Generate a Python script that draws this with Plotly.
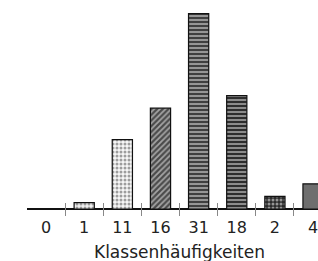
import plotly.graph_objects as go

categories = ["0", "1", "11", "16", "31", "18", "2", "4"]
values = [0, 1, 11, 16, 31, 18, 2, 4]
x_title = "Klassenhäufigkeiten"

pattern_shapes = ["", ".", ".", "/", "-", "-", ".", ""]
pattern_fg = ["#000", "#333333", "#222222", "#cfcfcf", "#dcdcdc", "#bdbdbd", "#ffffff", "#6e6e6e"]
bar_colors = ["#fff", "#f2f2f2", "#f7f7f7", "#4a4a4a", "#404040", "#2e2e2e", "#2a2a2a", "#6e6e6e"]
outline_widths = [0, 1.2, 1.2, 1.2, 1.2, 1.2, 1.2, 1.2]

fig = go.Figure()
fig.add_trace(go.Bar(
    x=categories, y=values,
    marker=dict(
        color=bar_colors,
        line=dict(color="#111", width=outline_widths),
        pattern=dict(shape=pattern_shapes, fgcolor=pattern_fg,
                     size=4, solidity=0.45, fillmode="overlay"),
    ),
    showlegend=False,
))

font = dict(family="DejaVu Sans", size=16, color="#222")
fig.update_layout(
    width=318, height=261,
    margin=dict(l=27, r=0, t=10, b=45, autoexpand=False),
    paper_bgcolor="white", plot_bgcolor="white",
    bargap=0.47,
    font=font,
    xaxis=dict(
        type="category", categoryorder="array", categoryarray=categories,
        range=[-0.5, 7.13], tickson="boundaries", ticks="inside", ticklen=13,
        tickwidth=1, tickcolor="#888", showline=False,
        showgrid=False, zeroline=False, tickfont=font, ticklabeloverflow="allow",
        automargin=False,
    ),
    yaxis=dict(range=[-1.11, 31.59], showticklabels=False, ticks="", showgrid=False,
               showline=False, zeroline=True, zerolinecolor="#111", zerolinewidth=1.5),
    annotations=[dict(
        text=x_title, x=3.5, xref="x", y=-0.175, yref="paper",
        showarrow=False, xanchor="center", yanchor="middle",
        font=dict(family="DejaVu Sans", size=17, color="#222"),
    )],
)

fig.write_html("out.html", config={"displayModeBar": False},
               post_script="document.body.style.margin='0';document.body.style.overflow='hidden';")
